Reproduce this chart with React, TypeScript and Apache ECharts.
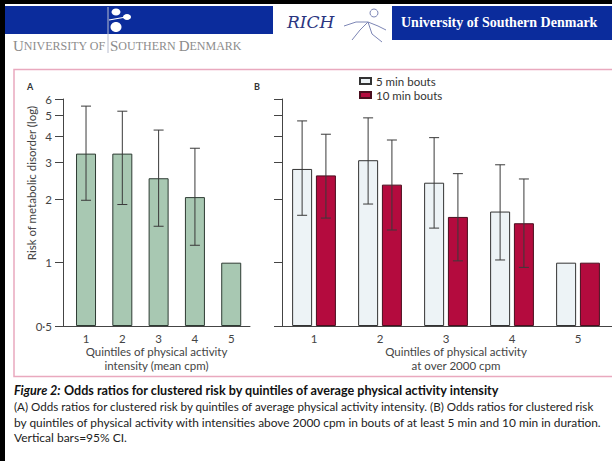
import React, { useEffect, useRef } from 'react';
import * as echarts from 'echarts';

// ---- data (odds ratios) ----
const quintiles = [1, 2, 3, 4, 5];
const intensityOR = [3.3, 3.3, 2.52, 2.05, 1.0];
const intensityLow = [1.98, 1.89, 1.49, 1.21, null];
const intensityHigh = [5.55, 5.25, 4.27, 3.5, null];
const bout5OR = [2.79, 3.07, 2.4, 1.75, 1.0];
const bout5Low = [1.68, 1.9, 1.46, 1.03, null];
const bout5High = [4.72, 4.88, 3.93, 2.92, null];
const bout10OR = [2.6, 2.35, 1.65, 1.54, 1.0];
const bout10Low = [1.63, 1.43, 1.02, 0.95, null];
const bout10High = [4.08, 3.83, 2.65, 2.5, null];
const yTickValues = [0.5, 1, 2, 3, 4, 5, 6];
const seriesNames = ['5 min bouts', '10 min bouts'];

const BASE = 0.5;
const t = (v: number) => Math.log2(v / BASE);
const yMax = t(6);

const FONT = 'Lato';

const fmtY = (val: number) => {
  const r = Math.round(BASE * Math.pow(2, val) * 10) / 10;
  return r === 0.5 ? '0·5' : String(r);
};

const errRender = (offset: number) => (params: any, api: any) => {
  const x = api.value(0);
  const lo = api.value(1);
  const hi = api.value(2);
  const a = api.coord([x, lo]);
  const b = api.coord([x, hi]);
  const cx = a[0] + offset;
  const hw = 5;
  const style = { stroke: '#3a3a3a', lineWidth: 1 };
  return {
    type: 'group',
    children: [
      { type: 'line', shape: { x1: cx, y1: a[1], x2: cx, y2: b[1] }, style },
      { type: 'line', shape: { x1: cx - hw, y1: a[1], x2: cx + hw, y2: a[1] }, style },
      { type: 'line', shape: { x1: cx - hw, y1: b[1], x2: cx + hw, y2: b[1] }, style },
    ],
  };
};

const errData = (low: (number | null)[], high: (number | null)[]) =>
  quintiles
    .map((q, i) => (low[i] == null ? null : [q, t(low[i] as number), t(high[i] as number)]))
    .filter((d) => d != null);

const yAxisBase = (gridIndex: number, showLabels: boolean) => ({
  type: 'value',
  gridIndex,
  min: 0,
  max: yMax,
  axisLine: { show: true, lineStyle: { color: '#444', width: 1 } },
  axisTick: {
    show: true,
    length: 8,
    customValues: yTickValues.map(t),
    lineStyle: { color: '#444', width: 1 },
  },
  axisLabel: {
    show: showLabels,
    customValues: yTickValues.map(t),
    formatter: fmtY,
    margin: 11,
    color: '#444',
    fontSize: 11.5,
    fontFamily: FONT,
  },
  splitLine: { show: false },
});

const xAxisBase = (gridIndex: number, min: number, max: number) => ({
  type: 'value',
  gridIndex,
  min,
  max,
  axisLine: { show: true, onZero: false, lineStyle: { color: '#444', width: 1 } },
  axisTick: { show: false },
  axisLabel: {
    customValues: quintiles,
    formatter: (v: number) => String(Math.round(v)),
    margin: 6,
    color: '#444',
    fontSize: 11.5,
    fontFamily: FONT,
  },
  splitLine: { show: false },
});

const BLUE = '#0b2c9c';

export default function App() {
  const ref = useRef<HTMLDivElement>(null);
  useEffect(() => {
    document.body.style.margin = '0';
    const chart = echarts.init(ref.current!, null, { renderer: 'svg' });
    const textStyle = (extra: any) => ({ fontFamily: FONT, fill: '#333', ...extra });
    const serifRich = {
      b: { fontFamily: 'Liberation Serif', fontSize: 15, fill: '#8c8c8c', color: '#8c8c8c' },
      s: { fontFamily: 'Liberation Serif', fontSize: 12, fill: '#8c8c8c', color: '#8c8c8c' },
    };
    chart.setOption({
      animation: false,
      backgroundColor: '#ffffff',
      grid: [
        { left: 63, top: 99, width: 187, height: 227 },
        { left: 282, top: 99, width: 330, height: 227 },
      ],
      xAxis: [xAxisBase(0, 0.366, 5.517), xAxisBase(1, 0.515, 5.515)],
      yAxis: [yAxisBase(0, true), yAxisBase(1, false)],
      legend: {
        data: seriesNames,
        orient: 'vertical',
        left: 359,
        top: 74,
        padding: 0,
        itemWidth: 11,
        itemHeight: 6,
        itemGap: 0,
        icon: 'rect',
        textStyle: { fontSize: 11.5, color: '#333', fontFamily: FONT, lineHeight: 14 },
      },
      series: [
        {
          type: 'bar',
          name: 'Mean cpm',
          xAxisIndex: 0,
          yAxisIndex: 0,
          barWidth: 20,
          data: quintiles.map((q, i) => [q, t(intensityOR[i])]),
          itemStyle: { color: '#a8c8b2', borderColor: '#2e3b33', borderWidth: 1 },
        },
        {
          type: 'custom',
          xAxisIndex: 0,
          yAxisIndex: 0,
          z: 5,
          encode: { x: 0, y: [1, 2] },
          renderItem: errRender(0),
          data: errData(intensityLow, intensityHigh),
        },
        {
          type: 'bar',
          name: seriesNames[0],
          xAxisIndex: 1,
          yAxisIndex: 1,
          barWidth: 20,
          barGap: '19%',
          data: quintiles.map((q, i) => [q, t(bout5OR[i])]),
          itemStyle: { color: '#edf3f6', borderColor: '#333', borderWidth: 1 },
        },
        {
          type: 'bar',
          name: seriesNames[1],
          xAxisIndex: 1,
          yAxisIndex: 1,
          barWidth: 20,
          barGap: '19%',
          data: quintiles.map((q, i) => [q, t(bout10OR[i])]),
          itemStyle: { color: '#b40b3e', borderColor: '#4a0e1e', borderWidth: 1 },
        },
        {
          type: 'custom',
          xAxisIndex: 1,
          yAxisIndex: 1,
          z: 5,
          encode: { x: 0, y: [1, 2] },
          renderItem: errRender(-11.9),
          data: errData(bout5Low, bout5High),
        },
        {
          type: 'custom',
          xAxisIndex: 1,
          yAxisIndex: 1,
          z: 5,
          encode: { x: 0, y: [1, 2] },
          renderItem: errRender(11.9),
          data: errData(bout10Low, bout10High),
        },
      ],
      graphic: [
        // frame / header
        { type: 'rect', shape: { x: 0, y: 0, width: 612, height: 4 }, style: { fill: '#000' } },
        { type: 'rect', shape: { x: 0, y: 0, width: 5, height: 461 }, style: { fill: '#000' } },
        { type: 'rect', shape: { x: 5, y: 6, width: 268, height: 28 }, style: { fill: BLUE } },
        { type: 'rect', shape: { x: 392, y: 6, width: 220, height: 34 }, style: { fill: BLUE } },
        {
          type: 'text',
          x: 401,
          y: 22,
          style: {
            text: 'University of Southern Denmark',
            fill: '#fff',
            fontFamily: 'Liberation Serif',
            fontWeight: 'bold',
            fontSize: 14,
            verticalAlign: 'middle',
          },
        },
        { type: 'line', shape: { x1: 108, y1: 7, x2: 108, y2: 53 }, style: { stroke: '#b8bdd0', lineWidth: 1 } },
        { type: 'ellipse', shape: { cx: 116, cy: 12, rx: 4.5, ry: 3.5 }, style: { fill: '#fff' } },
        { type: 'ellipse', shape: { cx: 127, cy: 17, rx: 4, ry: 3 }, style: { fill: '#fff' } },
        { type: 'ellipse', shape: { cx: 116, cy: 27, rx: 5.5, ry: 5 }, style: { fill: '#fff' } },
        { type: 'line', shape: { x1: 109, y1: 20, x2: 126, y2: 17 }, style: { stroke: '#fff', lineWidth: 1.2 } },
        {
          type: 'text',
          x: 13,
          y: 46,
          style: { text: '{b|U}{s|NIVERSITY OF}', verticalAlign: 'middle', rich: serifRich },
        },
        {
          type: 'text',
          x: 110,
          y: 46,
          style: { text: '{b|S}{s|OUTHERN }{b|D}{s|ENMARK}', verticalAlign: 'middle', rich: serifRich },
        },
        {
          type: 'text',
          x: 287,
          y: 22,
          style: {
            text: 'RICH',
            fill: '#2a3580',
            fontFamily: 'DejaVu Serif',
            fontStyle: 'italic',
            fontSize: 17,
            verticalAlign: 'middle',
          },
        },
        { type: 'circle', shape: { cx: 374, cy: 13, r: 4 }, style: { fill: 'none', stroke: '#7d86b5', lineWidth: 1 } },
        {
          type: 'polyline',
          shape: { points: [[352, 40], [360, 30], [368, 22], [378, 26], [386, 30]] },
          style: { stroke: '#7d86b5', lineWidth: 1, fill: 'none' },
        },
        {
          type: 'polyline',
          shape: { points: [[344, 26], [356, 22], [368, 22], [372, 34], [382, 42]] },
          style: { stroke: '#7d86b5', lineWidth: 1, fill: 'none' },
        },
        // pink frame
        {
          type: 'rect',
          shape: { x: 14, y: 69.5, width: 620, height: 307 },
          style: { fill: 'none', stroke: '#e9a9be', lineWidth: 1.5 },
        },
        // panel labels
        { type: 'text', x: 27, y: 86, style: textStyle({ text: 'A', fontSize: 9, fontWeight: 'bold', verticalAlign: 'middle' }) },
        { type: 'text', x: 254, y: 86, style: textStyle({ text: 'B', fontSize: 9, fontWeight: 'bold', verticalAlign: 'middle' }) },
        {
          type: 'text',
          x: 31,
          y: 183,
          rotation: Math.PI / 2,
          style: textStyle({
            text: 'Risk of metabolic disorder (log)',
            fontSize: 11.5,
            fill: '#444',
            align: 'center',
            verticalAlign: 'middle',
          }),
        },
        {
          type: 'text',
          x: 156.5,
          y: 358,
          style: textStyle({
            text: 'Quintiles of physical activity\nintensity (mean cpm)',
            fontSize: 11.5,
            lineHeight: 14,
            fill: '#444',
            align: 'center',
            verticalAlign: 'middle',
          }),
        },
        {
          type: 'text',
          x: 456,
          y: 358,
          style: textStyle({
            text: 'Quintiles of physical activity\nat over 2000 cpm',
            fontSize: 11.5,
            lineHeight: 14,
            fill: '#444',
            align: 'center',
            verticalAlign: 'middle',
          }),
        },
        // caption
        {
          type: 'text',
          x: 14,
          y: 390,
          style: {
            text: '{i|Figure 2:} {b|Odds ratios for clustered risk by quintiles of average physical activity intensity}',
            verticalAlign: 'middle',
            rich: {
              i: { fontFamily: FONT, fontSize: 12.6, fontWeight: 'bold', fontStyle: 'italic', fill: '#111', color: '#111' },
              b: { fontFamily: FONT, fontSize: 12.6, fontWeight: 'bold', fill: '#111', color: '#111' },
            },
          },
        },
        {
          type: 'text',
          x: 14,
          y: 406,
          style: textStyle({
            text: '(A) Odds ratios for clustered risk by quintiles of average physical activity intensity. (B) Odds ratios for clustered risk',
            fontSize: 11.6,
            fill: '#222',
            verticalAlign: 'middle',
          }),
        },
        {
          type: 'text',
          x: 14,
          y: 422,
          style: textStyle({
            text: 'by quintiles of physical activity with intensities above 2000 cpm in bouts of at least 5 min and 10 min in duration.',
            fontSize: 11.9,
            fill: '#222',
            verticalAlign: 'middle',
          }),
        },
        {
          type: 'text',
          x: 14,
          y: 437,
          style: textStyle({
            text: 'Vertical bars=95% CI.',
            fontSize: 12,
            fill: '#222',
            verticalAlign: 'middle',
          }),
        },
      ],
    });
    return () => chart.dispose();
  }, []);
  return <div ref={ref} style={{ width: 612, height: 461 }} />;
}
